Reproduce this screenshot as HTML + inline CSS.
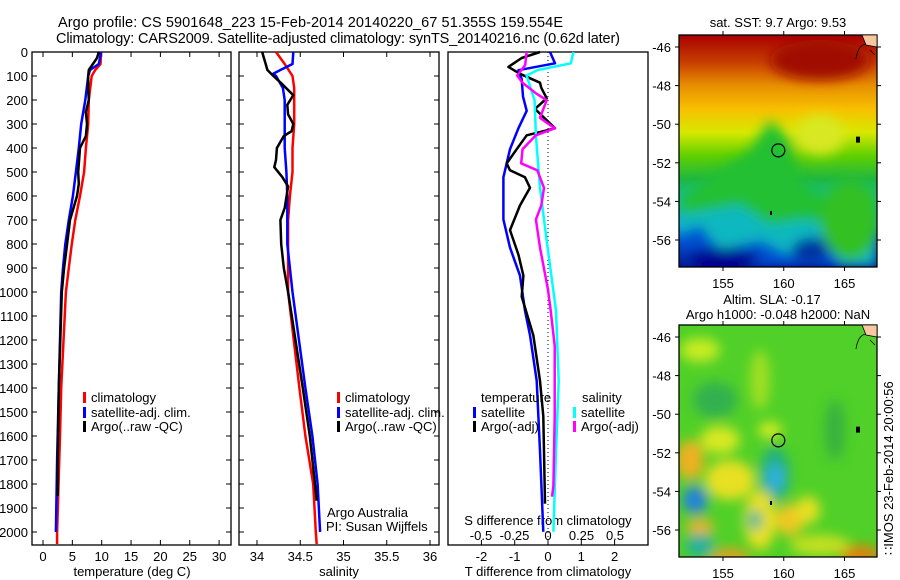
<!DOCTYPE html>
<html><head><meta charset="utf-8">
<style>
body{margin:0;background:#fff;}
svg{display:block;font-family:"Liberation Sans",sans-serif;}
text{font-size:13px;fill:#000;}
</style></head>
<body>
<svg id="fig" width="900" height="580" viewBox="0 0 900 580" xmlns="http://www.w3.org/2000/svg">
<defs>
<filter id="blur6" x="-20%" y="-20%" width="140%" height="140%"><feGaussianBlur stdDeviation="6"/></filter>
<filter id="blur4" x="-20%" y="-20%" width="140%" height="140%"><feGaussianBlur stdDeviation="4"/></filter>
<clipPath id="clipMap1"><rect x="679" y="35" width="198" height="232"/></clipPath>
<clipPath id="clipMap2"><rect x="679" y="325" width="198" height="232"/></clipPath>
<linearGradient id="sstGrad" x1="0" y1="0" x2="0" y2="1">
<stop offset="0" stop-color="#a80000"/><stop offset="0.12" stop-color="#c84000"/>
<stop offset="0.22" stop-color="#e89000"/><stop offset="0.32" stop-color="#f8c000"/>
<stop offset="0.42" stop-color="#d8e800"/><stop offset="0.52" stop-color="#60d000"/>
<stop offset="0.62" stop-color="#20b840"/><stop offset="0.72" stop-color="#10c0b0"/>
<stop offset="0.82" stop-color="#10a0e8"/><stop offset="0.9" stop-color="#1040c0"/>
<stop offset="1" stop-color="#000080"/></linearGradient>
</defs>
<g>
<text x="58" y="27" style="font-size:14.5px" textLength="505">Argo profile: CS 5901648_223 15-Feb-2014 20140220_67 51.355S 159.554E</text>
<text x="56" y="43" style="font-size:14.5px" textLength="564">Climatology: CARS2009. Satellite-adjusted climatology: synTS_20140216.nc (0.62d later)</text>
</g>
<g id="g1"></g>
<g id="g2"></g>
<g id="g3"></g>
<g id="m1"></g>
<g id="m2"></g>
</svg>
<script>
// ---- data ----
const depthTicks=[0,100,200,300,400,500,600,700,800,900,1000,1100,1200,1300,1400,1500,1600,1700,1800,1900,2000];
const tempTicks=[0,5,10,15,20,25,30];
const salTicks=[34,34.5,35,35.5,36];
const salTickLabels=["34","34.5","35","35.5","36"];
const tdiffTicks=[-2,-1,0,1,2];
const sdiffTicks=[-0.5,-0.25,0,0.25,0.5];
const sdiffTickLabels=["-0.5","-0.25","0","0.25","0.5"];

const tClimDepth=[0,50,75,100,200,300,400,500,600,700,800,900,1000,1400,1600,2000,2050];
const tClimVal=[9.9,9.8,8.9,8.3,7.8,7.7,7.3,7.0,6.3,5.5,4.9,4.4,3.9,3.1,2.9,2.4,2.4];
const tSatDepth=[0,50,75,100,200,300,400,500,600,700,800,900,1000,1400,1700,2000];
const tSatVal=[9.9,9.5,8.0,7.7,7.2,6.5,6.1,5.6,5.1,4.4,3.8,3.4,3.1,2.7,2.4,2.2];
const tArgoDepth=[0,25,50,75,100,150,200,250,300,350,400,500,550,600,700,800,900,1000,1400,1700,1850];
const tArgoVal=[9.5,9.2,8.5,7.8,7.7,7.7,7.8,7.3,7.5,7.3,6.3,6.0,6.1,5.8,4.6,4.1,3.6,3.2,2.7,2.5,2.5];

const sClimDepth=[0,50,100,150,300,400,500,600,700,1000,1400,1600,1800,2000,2050];
const sClimVal=[34.22,34.32,34.41,34.43,34.43,34.41,34.41,34.38,34.36,34.36,34.49,34.56,34.65,34.68,34.69];
const sSatDepth=[0,50,75,90,100,150,200,400,500,600,800,1000,1400,1600,1800,2000];
const sSatVal=[34.42,34.41,34.27,34.19,34.22,34.30,34.32,34.32,34.34,34.35,34.35,34.41,34.56,34.64,34.70,34.73];
const sArgoDepth=[0,25,50,75,100,130,180,220,260,300,330,350,400,450,480,520,560,650,700,800,900,1000,1400,1600,1800,1870];
const sArgoVal=[34.06,34.08,34.10,34.12,34.19,34.28,34.42,34.35,34.36,34.42,34.40,34.31,34.23,34.22,34.20,34.29,34.36,34.32,34.27,34.28,34.31,34.36,34.53,34.61,34.67,34.69];

const dTSatDepth=[0,47,76,113,186,245,318,405,522,698,815,932,1078,1180,1370,1663,1999];
const dTSatVal=[0.06,0.21,-0.89,-0.79,-0.75,-0.64,-0.89,-1.14,-1.34,-1.34,-1.14,-0.84,-0.69,-0.54,-0.34,-0.24,-0.14];
const dTArgoDepth=[0,25,62,91,128,149,193,237,318,347,405,464,493,522,566,639,742,844,932,1019,1180,1370,1517,1882];
const dTArgoVal=[-0.24,-0.79,-1.19,-0.84,-0.24,-0.2,-0.04,-0.39,0.21,-0.64,-0.94,-1.24,-1.14,-0.69,-0.54,-0.84,-1.14,-0.89,-0.74,-0.79,-0.44,-0.24,-0.14,-0.09];
const dSSatDepth=[0,47,76,98,201,347,566,786,1078,1370,1663,1999];
const dSSatVal=[0.19,0.17,-0.08,-0.16,-0.10,-0.09,-0.06,-0.01,0.06,0.08,0.06,0.04];
const dSArgoDepth=[0,54,98,128,172,201,274,318,347,405,464,493,566,639,698,815,990,1078,1224,1517,1809,1853];
const dSArgoVal=[-0.16,-0.17,-0.23,-0.19,-0.09,-0.01,-0.06,0.05,-0.09,-0.19,-0.2,-0.08,-0.03,-0.05,-0.09,-0.06,0.0,0.02,0.05,0.05,0.04,0.03];

const lonTicks=[155,160,165];
const latTicks=[-46,-48,-50,-52,-54,-56];
const argoLon=159.554, argoLat=-51.355;

// ---- helpers ----
const NS="http://www.w3.org/2000/svg";
function mk(parent,tag,attrs,txt){const e=document.createElementNS(NS,tag);for(const k in attrs)e.setAttribute(k,attrs[k]);if(txt!==undefined)e.textContent=txt;parent.appendChild(e);return e;}
const Y=d=>52+d*0.24;
const P1={l:32,r:231,t:52,b:545}, P2={l:239,r:439,t:52,b:545}, P3={l:448,r:648,t:52,b:545};
const xT=v=>43+v*5.87, xS=v=>257+(v-34)*86.5, xDT=v=>548+v*33.3, xDS=v=>548+v*134;
function line(g,xs,ds,fx,col,name){
  const pts=xs.map((v,i)=>fx(v).toFixed(1)+","+Y(ds[i]).toFixed(1)).join(" ");
  const p=mk(g,"polyline",{points:pts,fill:"none",stroke:col,"stroke-width":2.5,"stroke-linejoin":"round"});
  
  
}
function frame(g,P,name){
  const r=mk(g,"rect",{x:P.l,y:P.t,width:P.r-P.l,height:P.b-P.t,fill:"none",stroke:"#000","stroke-width":1.3});
  
  
}
function yTicks(g,P,labels){
  depthTicks.forEach(d=>{const y=Y(d);
    mk(g,"line",{x1:P.l,x2:P.l+5,y1:y,y2:y,stroke:"#000"});
    mk(g,"line",{x1:P.r-5,x2:P.r,y1:y,y2:y,stroke:"#000"});
    if(labels){const t=mk(g,"text",{x:28,y:y+5,"text-anchor":"end"},String(d));
      
      }
  });
}
function xTicks(g,P,vals,fx,labs,top){
  vals.forEach((v,i)=>{const x=fx(v);
    mk(g,"line",{x1:x,x2:x,y1:P.b-5,y2:P.b,stroke:"#000"});
    if(top)mk(g,"line",{x1:x,x2:x,y1:P.t,y2:P.t+5,stroke:"#000"});
    const t=mk(g,"text",{x:x,y:P.b+16,"text-anchor":"middle"},labs?labs[i]:String(v));
    
    
  });
}
function legend(g,x,y,col,label){
  mk(g,"rect",{x:x,y:y-10,width:3,height:11,fill:col});
  const t=mk(g,"text",{x:x+8,y:y},label);
  
  
}

// ---- panel 1 ----
const g1=document.getElementById("g1");
frame(g1,P1,"temperature-axes");yTicks(g1,P1,true);xTicks(g1,P1,tempTicks,xT,null,true);
line(g1,tClimVal,tClimDepth,xT,"#ff0000","temp-climatology-line");
line(g1,tSatVal,tSatDepth,xT,"#0000ff","temp-satellite-line");
line(g1,tArgoVal,tArgoDepth,xT,"#000000","temp-argo-line");
legend(g1,83,402,"#f00","climatology");legend(g1,83,417,"#00f","satellite-adj. clim.");legend(g1,83,431,"#000","Argo(..raw -QC)");
mk(g1,"text",{x:132,y:576,"text-anchor":"middle"},"temperature (deg C)");

// ---- panel 2 ----
const g2=document.getElementById("g2");
frame(g2,P2,"salinity-axes");yTicks(g2,P2,false);xTicks(g2,P2,salTicks,xS,salTickLabels,true);
line(g2,sClimVal,sClimDepth,xS,"#ff0000","sal-climatology-line");
line(g2,sSatVal,sSatDepth,xS,"#0000ff","sal-satellite-line");
line(g2,sArgoVal,sArgoDepth,xS,"#000000","sal-argo-line");
legend(g2,337,402,"#f00","climatology");legend(g2,337,417,"#00f","satellite-adj. clim.");legend(g2,337,431,"#000","Argo(..raw -QC)");
mk(g2,"text",{x:327,y:517},"Argo Australia");
mk(g2,"text",{x:326,y:531},"PI: Susan Wijffels");
mk(g2,"text",{x:339,y:576,"text-anchor":"middle"},"salinity");

// ---- panel 3 ----
const g3=document.getElementById("g3");
frame(g3,P3,"difference-axes");
mk(g3,"line",{x1:548,x2:548,y1:P3.t,y2:P3.b,stroke:"#000","stroke-dasharray":"1,3"});
tdiffTicks.forEach(v=>{const x=xDT(v);mk(g3,"line",{x1:x,x2:x,y1:P3.b-5,y2:P3.b,stroke:"#000"});
  const t=mk(g3,"text",{x:x,y:P3.b+16,"text-anchor":"middle"},String(v));
  });
sdiffTicks.forEach((v,i)=>{const t=mk(g3,"text",{x:xDS(v),y:540,"text-anchor":"middle"},sdiffTickLabels[i]);
  });
mk(g3,"text",{x:548,y:525,"text-anchor":"middle"},"S difference from climatology");
line(g3,dTSatVal,dTSatDepth,xDT,"#0000ff","tdiff-satellite-line");
line(g3,dTArgoVal,dTArgoDepth,xDT,"#000000","tdiff-argo-line");
line(g3,dSSatVal,dSSatDepth,xDS,"#00ffff","sdiff-satellite-line");
line(g3,dSArgoVal,dSArgoDepth,xDS,"#ff00ff","sdiff-argo-line");
mk(g3,"text",{x:481,y:402},"temperature");
legend(g3,473,417,"#00f","satellite");legend(g3,473,431,"#000","Argo(-adj)");
mk(g3,"text",{x:582,y:402},"salinity");
legend(g3,573,417,"#0ff","satellite");legend(g3,573,431,"#f0f","Argo(-adj)");
mk(g3,"text",{x:548,y:576,"text-anchor":"middle"},"T difference from climatology");

// ---- maps ----
const mx=lon=>723+(lon-155)*12.15, myOff=(lat,t)=>t+12+(-46-lat)*19.3;
function mapAxes(g,top,title1,title2){
  const r=mk(g,"rect",{x:679,y:top,width:198,height:232,fill:"none",stroke:"#000","stroke-width":1.3});
  lonTicks.forEach(v=>{const x=mx(v);
    mk(g,"line",{x1:x,x2:x,y1:top-4,y2:top,stroke:"#000"});
    mk(g,"line",{x1:x,x2:x,y1:top+232,y2:top+236,stroke:"#000"});
    const t=mk(g,"text",{x:x,y:top+253,"text-anchor":"middle"},String(v));
    });
  latTicks.forEach(v=>{const y=myOff(v,top);
    mk(g,"line",{x1:675,x2:679,y1:y,y2:y,stroke:"#000"});
    mk(g,"line",{x1:877,x2:881,y1:y,y2:y,stroke:"#000"});
    const t=mk(g,"text",{x:671,y:y+5,"text-anchor":"end"},String(v));
    });
  const c=mk(g,"circle",{cx:mx(argoLon),cy:myOff(argoLat,top),r:6.5,fill:"none",stroke:"#000","stroke-width":1.2});
  
  
  mk(g,"path",{d:`M862 ${top} L877 ${top} L877 ${top+12} L866 ${top+10} Z`,fill:"#f8c8a0",stroke:"#000","stroke-width":0.8});
  mk(g,"path",{d:`M856 ${top+24} Q858 ${top+10} 866 ${top+9} M870 ${top+15} L875 ${top+20}`,fill:"none",stroke:"#000","stroke-width":0.8});
  mk(g,"rect",{x:856,y:myOff(-50.8,top)-3,width:4,height:6,fill:"#000"});
  mk(g,"rect",{x:770,y:myOff(-54.6,top)-2,width:2,height:4,fill:"#000"});
  if(title2){
    mk(g,"text",{x:772,y:top-21,"text-anchor":"middle"},title1);
    mk(g,"text",{x:778,y:top-6,"text-anchor":"middle"},title2);
  } else mk(g,"text",{x:778,y:top-8,"text-anchor":"middle"},title1);
}
const m1=document.getElementById("m1");
const c1=mk(m1,"g",{"clip-path":"url(#clipMap1)"});
mk(c1,"rect",{x:679,y:35,width:198,height:232,fill:"url(#sstGrad)"});
const b1=mk(c1,"g",{filter:"url(#blur6)"});
mk(b1,"path",{d:"M679 200 L720 170 L750 150 L770 120 L790 140 L800 180 L830 200 L877 190 L877 267 L679 267 Z",fill:"#20c030"});
mk(b1,"path",{d:"M679 215 L740 205 L770 225 L800 220 L877 225 L877 267 L679 267 Z",fill:"#10b8c0"});
mk(b1,"path",{d:"M679 235 L700 225 L720 250 L760 240 L790 255 L800 240 L830 235 L840 267 L679 267 Z",fill:"#0050d0"});
mk(b1,"ellipse",{cx:720,cy:258,rx:40,ry:10,fill:"#000090"});
mk(b1,"ellipse",{cx:810,cy:250,rx:18,ry:12,fill:"#0030a0"});
mk(b1,"ellipse",{cx:850,cy:220,rx:30,ry:40,fill:"#30c020"});
mk(b1,"ellipse",{cx:820,cy:60,rx:50,ry:20,fill:"#a01000"});
mk(b1,"ellipse",{cx:820,cy:135,rx:25,ry:20,fill:"#d8e820"});
mapAxes(m1,35,"sat. SST: 9.7  Argo: 9.53",null);

const m2=document.getElementById("m2");
const c2=mk(m2,"g",{"clip-path":"url(#clipMap2)"});
mk(c2,"rect",{x:679,y:325,width:198,height:232,fill:"#50d028"});
const b2=mk(c2,"g",{filter:"url(#blur6)"});
const blobs=[[700,350,20,12,"#c8ec20"],[715,400,22,18,"#30b050"],[690,460,14,20,"#f0b020"],[730,480,25,20,"#e8e020"],[770,430,12,8,"#d8ec20"],
[775,475,15,28,"#20b080"],[775,478,9,14,"#30b0e0"],[695,500,12,14,"#2080e0"],[700,527,14,8,"#f0b020"],[700,545,14,12,"#20b0a0"],
[730,560,20,12,"#e0a020"],[760,520,16,30,"#e8e020"],[790,520,14,16,"#f0c820"],[808,510,12,14,"#e8e020"],[755,520,7,10,"#20b0a0"],
[860,555,20,10,"#e08010"],[820,545,30,10,"#c8e020"],[760,380,10,30,"#a0e020"],[835,430,10,30,"#38b040"],[720,440,20,14,"#d8e820"]];
blobs.forEach(b=>mk(b2,"ellipse",{cx:b[0],cy:b[1],rx:b[2],ry:b[3],fill:b[4]}));
mapAxes(m2,325,"Altim. SLA: -0.17","Argo h1000: -0.048 h2000: NaN");
const vt=mk(m2,"text",{x:0,y:0,transform:"translate(893,555) rotate(-90)"},"\u2237IMOS 23-Feb-2014 20:00:56");


</script>
</body></html>
